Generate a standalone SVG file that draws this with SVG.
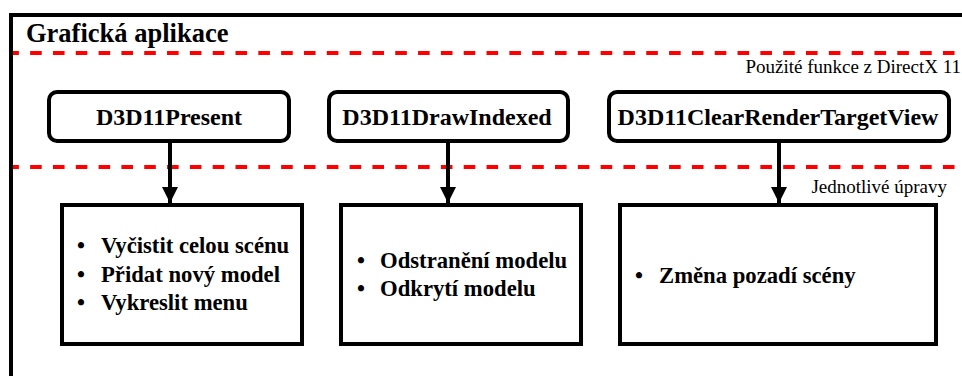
<svg xmlns="http://www.w3.org/2000/svg" width="962" height="376" viewBox="0 0 962 376">
  <style>
    .fnbox { fill: #fff; stroke: #000; stroke-width: 4; }
    .box { fill: #fff; stroke: #000; stroke-width: 4; }
    .sep { stroke: #ff0000; stroke-width: 4; stroke-dasharray: 11.6 11.22; stroke-dashoffset: 5.7; fill: none; }
    .conn { stroke: #000; stroke-width: 4; fill: none; }
  </style>
  <defs>
    <marker id="arrow" markerUnits="userSpaceOnUse" markerWidth="16" markerHeight="16" refX="16" refY="8" orient="auto">
      <path d="M0,0 L16,8 L0,16 Z" fill="#000"/>
    </marker>
  </defs>
  <rect x="0" y="0" width="962" height="376" fill="#fff"/>
  <g id="frame">
    <path d="M11,380 V15 H966" fill="none" stroke="#000" stroke-width="4"/>
    <text font-family="Liberation Serif" font-size="26.5" font-weight="bold" x="26" y="42">Grafická aplikace</text>
    <line class="sep" x1="13" y1="53" x2="962" y2="53"/>
    <text font-family="Liberation Serif" font-size="19" x="961" y="73" text-anchor="end">Použité funkce z DirectX 11</text>
    <line class="sep" x1="13" y1="167" x2="962" y2="167"/>
    <text font-family="Liberation Serif" font-size="19" x="947" y="193" text-anchor="end">Jednotlivé úpravy</text>
  </g>
  <g id="connectors">
    <line class="conn" x1="170" y1="143" x2="170" y2="203" marker-end="url(#arrow)"/>
    <line class="conn" x1="448" y1="143" x2="448" y2="203" marker-end="url(#arrow)"/>
    <line class="conn" x1="779" y1="143" x2="779" y2="203" marker-end="url(#arrow)"/>
  </g>
  <g id="present">
    <rect class="fnbox" x="49" y="92" width="240" height="49" rx="8" ry="8"/>
    <text font-family="Liberation Serif" font-size="24" font-weight="bold" text-anchor="middle" x="169" y="125">D3D11Present</text>
  </g>
  <g id="drawindexed">
    <rect class="fnbox" x="329" y="92" width="239" height="49" rx="8" ry="8"/>
    <text font-family="Liberation Serif" font-size="24" font-weight="bold" text-anchor="middle" x="447" y="125">D3D11DrawIndexed</text>
  </g>
  <g id="clearrtv">
    <rect class="fnbox" x="609" y="92" width="340" height="49" rx="8" ry="8"/>
    <text font-family="Liberation Serif" font-size="24" font-weight="bold" text-anchor="middle" x="778" y="125">D3D11ClearRenderTargetView</text>
  </g>
  <g id="present-edits">
    <rect class="box" x="62" y="205" width="240" height="139"/>
    <text font-family="Liberation Serif" font-size="22.7" font-weight="bold" y="253"><tspan x="77">•</tspan><tspan x="101">Vyčistit celou scénu</tspan></text>
    <text font-family="Liberation Serif" font-size="22.7" font-weight="bold" y="281.5"><tspan x="77">•</tspan><tspan x="101">Přidat nový model</tspan></text>
    <text font-family="Liberation Serif" font-size="22.7" font-weight="bold" y="310"><tspan x="77">•</tspan><tspan x="101">Vykreslit menu</tspan></text>
  </g>
  <g id="drawindexed-edits">
    <rect class="box" x="341" y="205" width="240" height="139"/>
    <text font-family="Liberation Serif" font-size="22.7" font-weight="bold" y="268"><tspan x="357">•</tspan><tspan x="380">Odstranění modelu</tspan></text>
    <text font-family="Liberation Serif" font-size="22.7" font-weight="bold" y="296"><tspan x="357">•</tspan><tspan x="380">Odkrytí modelu</tspan></text>
  </g>
  <g id="clearrtv-edits">
    <rect class="box" x="620" y="205" width="316" height="139"/>
    <text font-family="Liberation Serif" font-size="22.7" font-weight="bold" y="283"><tspan x="635">•</tspan><tspan x="659">Změna pozadí scény</tspan></text>
  </g>
</svg>
